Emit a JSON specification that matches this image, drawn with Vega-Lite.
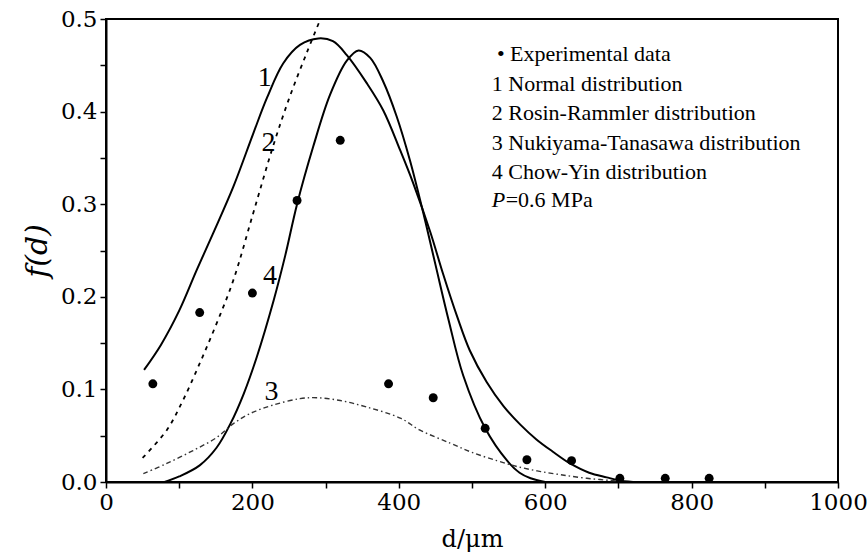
{
  "$schema": "https://vega.github.io/schema/vega-lite/v6.json",
  "autosize": {"type": "none"},
  "width": 732,
  "height": 463,
  "padding": {"left": 106, "top": 19, "right": 29, "bottom": 76},
  "background": "white",
  "config": {
    "view": {"stroke": "black", "strokeWidth": 2},
    "font": "Liberation Serif",
    "axis": {
      "domainColor": "black", "domainWidth": 2,
      "tickColor": "black", "tickWidth": 1.5, "tickSize": 6,
      "labelColor": "black", "labelFontSize": 23, "labelFont": "DejaVu Serif",
      "titleColor": "black", "titleFontSize": 24, "titleFontWeight": "normal", "titleFont": "DejaVu Serif",
      "grid": false
    }
  },
  "datasets": {
    "curves": [
      {"curve": "1", "d": 52, "f": 0.121}, {"curve": "1", "d": 75, "f": 0.148}, {"curve": "1", "d": 100, "f": 0.185},
      {"curve": "1", "d": 124, "f": 0.229}, {"curve": "1", "d": 146, "f": 0.268}, {"curve": "1", "d": 174, "f": 0.319},
      {"curve": "1", "d": 201, "f": 0.376}, {"curve": "1", "d": 220, "f": 0.415}, {"curve": "1", "d": 242, "f": 0.452},
      {"curve": "1", "d": 265, "f": 0.472}, {"curve": "1", "d": 290, "f": 0.479}, {"curve": "1", "d": 310, "f": 0.476},
      {"curve": "1", "d": 329, "f": 0.461}, {"curve": "1", "d": 356, "f": 0.431}, {"curve": "1", "d": 379, "f": 0.401},
      {"curve": "1", "d": 402, "f": 0.358}, {"curve": "1", "d": 420, "f": 0.322}, {"curve": "1", "d": 443, "f": 0.27},
      {"curve": "1", "d": 460, "f": 0.226}, {"curve": "1", "d": 480, "f": 0.178}, {"curve": "1", "d": 497, "f": 0.142},
      {"curve": "1", "d": 520, "f": 0.108}, {"curve": "1", "d": 543, "f": 0.082}, {"curve": "1", "d": 566, "f": 0.062},
      {"curve": "1", "d": 588, "f": 0.046}, {"curve": "1", "d": 610, "f": 0.033}, {"curve": "1", "d": 634, "f": 0.02},
      {"curve": "1", "d": 660, "f": 0.01}, {"curve": "1", "d": 684, "f": 0.005}, {"curve": "1", "d": 700, "f": 0.002},
      {"curve": "1", "d": 720, "f": 0.0},

      {"curve": "2", "d": 50, "f": 0.026}, {"curve": "2", "d": 83, "f": 0.056}, {"curve": "2", "d": 105, "f": 0.088},
      {"curve": "2", "d": 128, "f": 0.128}, {"curve": "2", "d": 151, "f": 0.171}, {"curve": "2", "d": 174, "f": 0.218},
      {"curve": "2", "d": 201, "f": 0.29}, {"curve": "2", "d": 228, "f": 0.362}, {"curve": "2", "d": 251, "f": 0.416},
      {"curve": "2", "d": 274, "f": 0.463}, {"curve": "2", "d": 293, "f": 0.5},

      {"curve": "3", "d": 51, "f": 0.009}, {"curve": "3", "d": 83, "f": 0.02}, {"curve": "3", "d": 119, "f": 0.034},
      {"curve": "3", "d": 151, "f": 0.048}, {"curve": "3", "d": 174, "f": 0.063}, {"curve": "3", "d": 197, "f": 0.074},
      {"curve": "3", "d": 228, "f": 0.083}, {"curve": "3", "d": 265, "f": 0.09}, {"curve": "3", "d": 288, "f": 0.091},
      {"curve": "3", "d": 320, "f": 0.088}, {"curve": "3", "d": 356, "f": 0.081}, {"curve": "3", "d": 402, "f": 0.069},
      {"curve": "3", "d": 429, "f": 0.056}, {"curve": "3", "d": 470, "f": 0.042}, {"curve": "3", "d": 500, "f": 0.032},
      {"curve": "3", "d": 534, "f": 0.023}, {"curve": "3", "d": 560, "f": 0.017}, {"curve": "3", "d": 589, "f": 0.012},
      {"curve": "3", "d": 620, "f": 0.008}, {"curve": "3", "d": 657, "f": 0.004}, {"curve": "3", "d": 700, "f": 0.001},

      {"curve": "4", "d": 80, "f": 0.0}, {"curve": "4", "d": 100, "f": 0.006}, {"curve": "4", "d": 128, "f": 0.018},
      {"curve": "4", "d": 151, "f": 0.037}, {"curve": "4", "d": 170, "f": 0.063}, {"curve": "4", "d": 188, "f": 0.095},
      {"curve": "4", "d": 206, "f": 0.135}, {"curve": "4", "d": 229, "f": 0.196}, {"curve": "4", "d": 245, "f": 0.245},
      {"curve": "4", "d": 261, "f": 0.3}, {"curve": "4", "d": 283, "f": 0.362}, {"curve": "4", "d": 306, "f": 0.418},
      {"curve": "4", "d": 329, "f": 0.455}, {"curve": "4", "d": 345, "f": 0.466}, {"curve": "4", "d": 361, "f": 0.458},
      {"curve": "4", "d": 379, "f": 0.432}, {"curve": "4", "d": 397, "f": 0.395}, {"curve": "4", "d": 415, "f": 0.348},
      {"curve": "4", "d": 433, "f": 0.292}, {"curve": "4", "d": 450, "f": 0.235}, {"curve": "4", "d": 468, "f": 0.175},
      {"curve": "4", "d": 488, "f": 0.115}, {"curve": "4", "d": 518, "f": 0.058}, {"curve": "4", "d": 548, "f": 0.023},
      {"curve": "4", "d": 565, "f": 0.01}, {"curve": "4", "d": 580, "f": 0.004}, {"curve": "4", "d": 600, "f": 0.0}
    ],
    "experimental": [
      {"d": 64, "f": 0.106}, {"d": 128, "f": 0.183}, {"d": 200, "f": 0.204}, {"d": 261, "f": 0.304},
      {"d": 320, "f": 0.369}, {"d": 386, "f": 0.106}, {"d": 447, "f": 0.091}, {"d": 518, "f": 0.058},
      {"d": 575, "f": 0.024}, {"d": 636, "f": 0.023}, {"d": 702, "f": 0.004}, {"d": 764, "f": 0.004},
      {"d": 824, "f": 0.004}
    ],
    "curveLabels": [
      {"label": "1", "d": 217, "f": 0.436}, {"label": "2", "d": 222, "f": 0.366},
      {"label": "3", "d": 226, "f": 0.097}, {"label": "4", "d": 224, "f": 0.223}
    ],
    "legendText": [
      {"text": "• Experimental data", "d": 534, "f": 0.4617},
      {"text": "1 Normal distribution", "d": 527, "f": 0.4303},
      {"text": "2 Rosin-Rammler distribution", "d": 527, "f": 0.399},
      {"text": "3 Nukiyama-Tanasawa distribution", "d": 527, "f": 0.3666},
      {"text": "4 Chow-Yin distribution", "d": 527, "f": 0.3353},
      {"text": "=0.6 MPa", "d": 546, "f": 0.304}
    ],
    "legendItalic": [
      {"text": "P", "d": 527, "f": 0.304}
    ]
  },
  "encoding": {
    "x": {
      "field": "d", "type": "quantitative",
      "scale": {"domain": [0, 1000], "nice": false, "zero": false},
      "axis": {
        "title": "d/μm",
        "values": [0, 100, 200, 300, 400, 500, 600, 700, 800, 900, 1000],
        "labelExpr": "datum.value % 200 === 0 ? datum.label : ''",
        "format": "d",
        "labelPadding": 3,
        "titlePadding": 13,
        "labelFlush": false,
        "labelOverlap": false
      }
    },
    "y": {
      "field": "f", "type": "quantitative",
      "scale": {"domain": [0, 0.5], "nice": false},
      "axis": {
        "title": "f(d)",
        "titleFontStyle": "italic",
        "titleFontSize": 30,
        "values": [0, 0.05, 0.1, 0.15, 0.2, 0.25, 0.3, 0.35, 0.4, 0.45, 0.5],
        "labelExpr": "abs(round(datum.value * 100) % 10) < 0.5 ? format(datum.value, '.1f') : ''",
        "labelPadding": 3,
        "titlePadding": 8,
        "labelFlush": false,
        "labelOverlap": false
      }
    }
  },
  "layer": [
    {
      "data": {"name": "curves"},
      "transform": [{"filter": "datum.curve === '1'"}],
      "mark": {"type": "line", "color": "black", "strokeWidth": 2, "interpolate": "catmull-rom", "clip": true}
    },
    {
      "data": {"name": "curves"},
      "transform": [{"filter": "datum.curve === '4'"}],
      "mark": {"type": "line", "color": "black", "strokeWidth": 2, "interpolate": "catmull-rom", "clip": true}
    },
    {
      "data": {"name": "curves"},
      "transform": [{"filter": "datum.curve === '2'"}],
      "mark": {"type": "line", "color": "black", "strokeWidth": 1.8, "strokeDash": [4, 5], "interpolate": "catmull-rom", "clip": true}
    },
    {
      "data": {"name": "curves"},
      "transform": [{"filter": "datum.curve === '3'"}],
      "mark": {"type": "line", "color": "#333333", "strokeWidth": 1.4, "strokeDash": [5, 3, 1.5, 3], "interpolate": "catmull-rom", "clip": true}
    },
    {
      "data": {"name": "experimental"},
      "mark": {"type": "circle", "color": "black", "opacity": 1, "size": 80}
    },
    {
      "data": {"name": "curveLabels"},
      "mark": {"type": "text", "font": "Liberation Serif", "fontSize": 28, "color": "black", "align": "center", "baseline": "middle"},
      "encoding": {"text": {"field": "label"}}
    },
    {
      "data": {"name": "legendText"},
      "mark": {
        "type": "text", "font": "Liberation Serif", "fontSize": 22, "color": "black",
        "align": "left", "baseline": "middle"
      },
      "encoding": {"text": {"field": "text"}}
    },
    {
      "data": {"name": "legendItalic"},
      "mark": {
        "type": "text", "font": "Liberation Serif", "fontSize": 22, "fontStyle": "italic", "color": "black",
        "align": "left", "baseline": "middle"
      },
      "encoding": {"text": {"field": "text"}}
    }
  ]
}
